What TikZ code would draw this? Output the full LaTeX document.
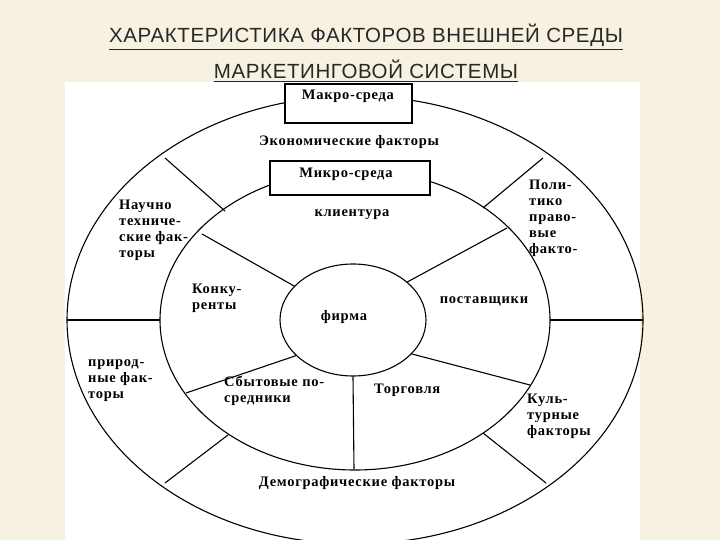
\documentclass[tikz,border=0pt]{standalone}
\usepackage{fontspec}
\usetikzlibrary{shapes.geometric}
\setmainfont{Liberation Serif}[LetterSpace=5]
\newfontfamily\titlefont{Liberation Sans}[LetterSpace=3]
\definecolor{bg}{RGB}{246,241,224}
\definecolor{ttl}{RGB}{40,40,40}
\begin{document}
\begin{tikzpicture}[x=1pt,y=-1pt,
  ln/.style={line width=1.1pt,black},
  lbl/.style={font=\bfseries\fontsize{14.5}{16}\selectfont,inner sep=0pt},
  ml/.style={lbl,align=left,anchor=north west},
  boxn/.style={draw,line width=1.1pt,fill=white,inner sep=0pt},
  ttlst/.style={font=\titlefont\fontsize{20.5}{22}\selectfont,text=ttl,inner sep=0pt}]
\useasboundingbox (0,0) rectangle (720,540);
\fill[bg] (0,0) rectangle (720,540);
\fill[white] (65,82) rectangle (640,540);
\node[ttlst] (t1) at (366,35) {ХАРАКТЕРИСТИКА ФАКТОРОВ ВНЕШНЕЙ СРЕДЫ};
\node[ttlst] (t2) at (366,69) {МАРКЕТИНГОВОЙ СИСТЕМЫ};
\draw[ttl,line width=0.9pt] ([yshift=-3pt]t1.south west) -- ([yshift=-3pt]t1.south east);
\draw[ttl,line width=0.9pt] ([yshift=-3pt]t2.south west) -- ([yshift=-3pt]t2.south east);
% ellipses
\draw[ln] (355,320) ellipse [x radius=288,y radius=224];
\draw[ln] (355,320) ellipse [x radius=195,y radius=150];
\node[ln,draw,ellipse,minimum width=146pt,minimum height=112pt,inner sep=0pt] (firm) at (353,320) {};
% outer radial
\coordinate (o1a) at (165,158); \coordinate (o1b) at (225,211);
\coordinate (o2a) at (543,158); \coordinate (o2b) at (483,208);
\coordinate (o3a) at (67,320); \coordinate (o3b) at (160,320);
\coordinate (o4a) at (550,320); \coordinate (o4b) at (643,320);
\coordinate (o5a) at (228,435); \coordinate (o5b) at (165,483);
\coordinate (o6a) at (483,433); \coordinate (o6b) at (546,483);
\draw[ln] (o1a)--(o1b); \draw[ln] (o2a)--(o2b); \draw[ln] (o3a)--(o3b);
\draw[ln] (o4a)--(o4b); \draw[ln] (o5a)--(o5b); \draw[ln] (o6a)--(o6b);
% inner radial
\coordinate (i1) at (202,234); \coordinate (i2) at (507,228);
\coordinate (i3) at (186,393); \coordinate (i4) at (530,385);
\coordinate (i5) at (354,469);
\draw[ln] (i1)--(firm.150); \draw[ln] (i2)--(firm.35);
\draw[ln] (i3)--(firm.212); \draw[ln] (i4)--(firm.-30);
\draw[ln] (i5)--(firm.south);
% boxes
\node[boxn,minimum width=127pt,minimum height=39pt] (macro) at (348.5,103.5) {};
\node[lbl] (macrot) at (348,96) {Макро-среда};
\node[boxn,minimum width=160pt,minimum height=34pt] (micro) at (350,178) {};
\node[lbl] (microt) at (346,174) {Микро-среда};
% labels
\node[lbl] (econ) at (349,142) {Экономические факторы};
\node[lbl] (client) at (352,215) {клиентура};
\node[ml] (nauch) at (119,200) {Научно\\техниче-\\ские фак-\\торы};
\node[ml] (polit) at (529,180) {Поли-\\тико\\право-\\вые\\факто-};
\node[ml] (konk) at (192,284) {Конку-\\ренты};
\node[lbl] (post) at (484,301) {поставщики};
\node[lbl] (firmt) at (344,317) {фирма};
\node[ml] (prir) at (88,359) {природ-\\ные фак-\\торы};
\node[ml] (sbyt) at (224,376) {Сбытовые по-\\средники};
\node[lbl,anchor=west] (torg) at (374,390) {Торговля};
\node[ml] (kult) at (527,394) {Куль-\\турные\\факторы};
\node[lbl] (demo) at (357,483) {Демографические факторы};
\end{tikzpicture}
\end{document}
